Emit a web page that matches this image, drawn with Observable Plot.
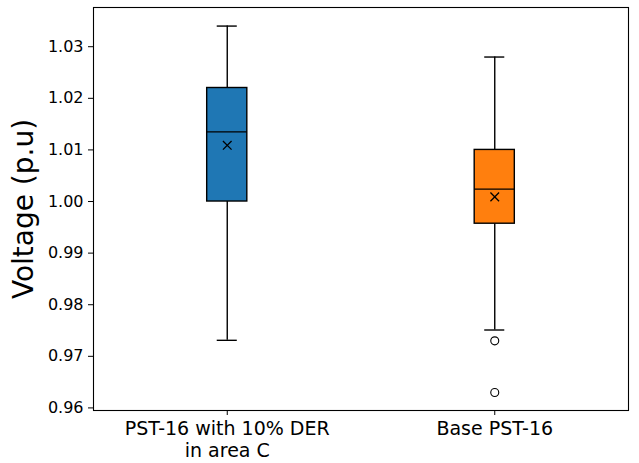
<!DOCTYPE html>
<html>
<head>
<meta charset="utf-8">
<script src="https://cdn.jsdelivr.net/npm/d3@7"></script>
<script src="https://cdn.jsdelivr.net/npm/@observablehq/plot@0.6"></script>
<style>
  html, body { margin: 0; padding: 0; background: #fff; }
  svg { display: block; }
</style>
</head>
<body>
<div id="chart"></div>
<script>
const categories = ["PST-16 with 10% DER\nin area C", "Base PST-16"];
const positions = [1, 2];
const colors = ["#1f77b4", "#ff7f0e"];
const whiskerLow = [0.9731, 0.9751];
const q1 = [1.0000, 0.9957];
const median = [1.0135, 1.0024];
const q3 = [1.0220, 1.0100];
const whiskerHigh = [1.0340, 1.0280];
const means = [1.0109, 1.0009];
const outlierPos = [2, 2];
const outlierVals = [0.9730, 0.9630];
const yTicks = [0.96, 0.97, 0.98, 0.99, 1.00, 1.01, 1.02, 1.03];

const boxHalf = 0.075;
const capHalf = 0.0375;

const boxes = positions.map((p, i) => ({
  pos: p, cat: categories[i], color: colors[i],
  lo: whiskerLow[i], q1: q1[i], med: median[i], q3: q3[i], hi: whiskerHigh[i], mean: means[i]
}));
const outliers = outlierPos.map((p, i) => ({pos: p, v: outlierVals[i]}));

const chart = Plot.plot({
  width: 639,
  height: 463,
  marginLeft: 93,
  marginRight: 11,
  marginTop: 7,
  marginBottom: 53,
  style: {fontFamily: "DejaVu Sans", background: "#fff"},
  x: {domain: [0.5, 2.5]},
  y: {domain: [0.9595, 1.0376]},
  marks: [
    Plot.axisY({ticks: yTicks, tickFormat: d3.format(".2f"), tickSize: 5, tickPadding: 5, fontSize: 16, label: null, stroke: "#000", color: "#000"}),
    Plot.axisX({ticks: positions, tickFormat: (d) => categories[positions.indexOf(d)], tickSize: 5, tickPadding: 4, fontSize: 19, label: null, lineHeight: 1.15, color: "#000"}),
    Plot.text(["Voltage (p.u)"], {frameAnchor: "left", rotate: -90, dx: -69, fontSize: 28, fill: "#000", lineAnchor: "middle", textAnchor: "middle"}),
    Plot.ruleX(boxes, {x: "pos", y1: "q3", y2: "hi", stroke: "#000", strokeWidth: 1.4}),
    Plot.ruleX(boxes, {x: "pos", y1: "lo", y2: "q1", stroke: "#000", strokeWidth: 1.4}),
    Plot.ruleY(boxes, {y: "hi", x1: (d) => d.pos - capHalf, x2: (d) => d.pos + capHalf, stroke: "#000", strokeWidth: 1.4}),
    Plot.ruleY(boxes, {y: "lo", x1: (d) => d.pos - capHalf, x2: (d) => d.pos + capHalf, stroke: "#000", strokeWidth: 1.4}),
    Plot.rect(boxes, {x1: (d) => d.pos - boxHalf, x2: (d) => d.pos + boxHalf, y1: "q1", y2: "q3", fill: "color", stroke: "#000", strokeWidth: 1.4}),
    Plot.ruleY(boxes, {y: "med", x1: (d) => d.pos - boxHalf, x2: (d) => d.pos + boxHalf, stroke: "#000", strokeWidth: 1.4}),
    Plot.dot(boxes, {x: "pos", y: "mean", symbol: "times", r: 4, stroke: "#000", strokeWidth: 1.3}),
    Plot.dot(outliers, {x: "pos", y: "v", r: 4, stroke: "#000", fill: "none", strokeWidth: 1.1}),
    Plot.frame({stroke: "#000", strokeWidth: 1.1})
  ]
});
document.getElementById("chart").appendChild(chart);
</script>
</body>
</html>
